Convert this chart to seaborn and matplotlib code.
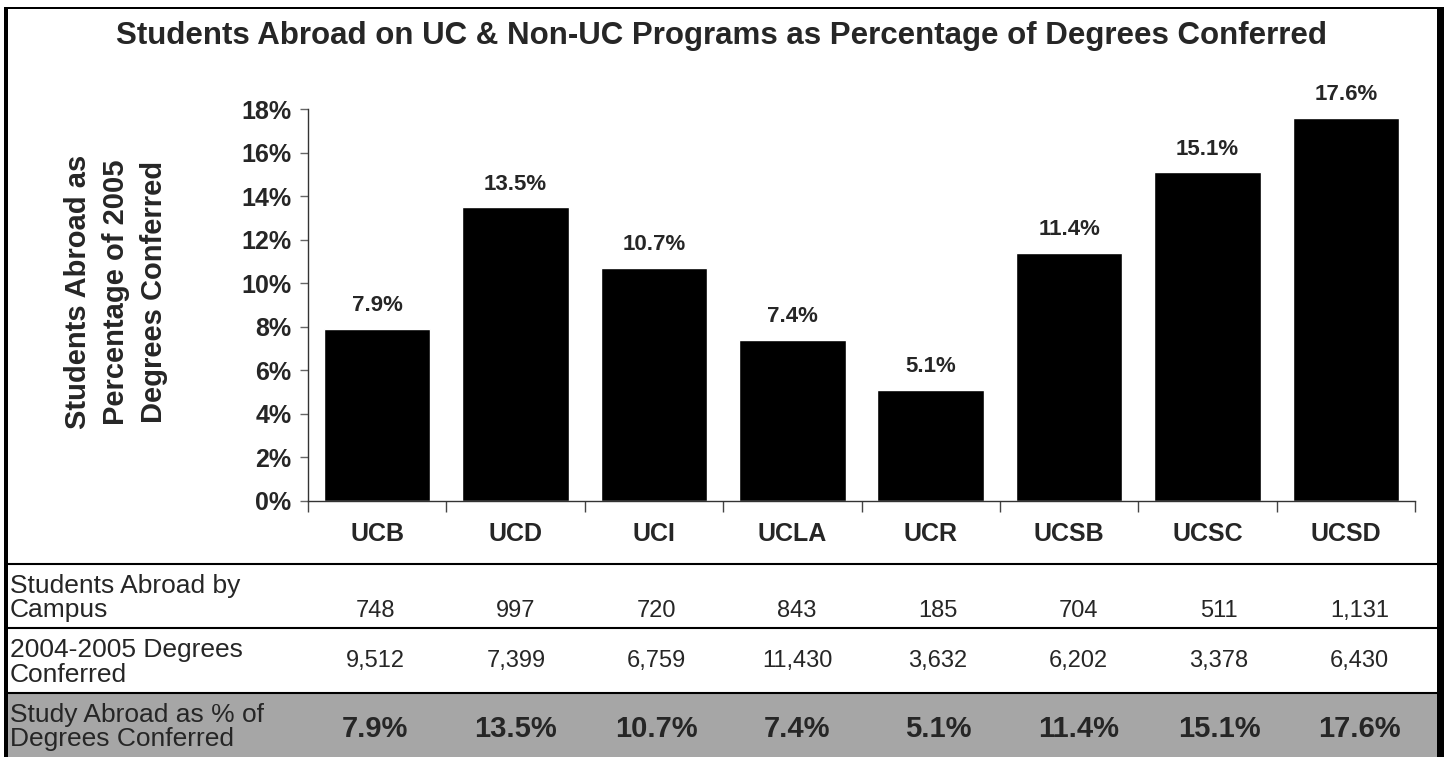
import matplotlib
matplotlib.use("Agg")
import matplotlib.pyplot as plt
import seaborn as sns
import pandas as pd
from matplotlib.patches import Rectangle
from matplotlib.lines import Line2D

# data
campuses = ["UCB", "UCD", "UCI", "UCLA", "UCR", "UCSB", "UCSC", "UCSD"]
pct_abroad = [7.9, 13.5, 10.7, 7.4, 5.1, 11.4, 15.1, 17.6]
students_abroad = [748, 997, 720, 843, 185, 704, 511, 1131]
degrees_conferred = [9512, 7399, 6759, 11430, 3632, 6202, 3378, 6430]
row_labels = ["Students Abroad by\nCampus",
              "2004-2005 Degrees\nConferred",
              "Study Abroad as % of\nDegrees Conferred"]
y_ticks = list(range(0, 20, 2))

sns.set_style("white")
plt.rcParams["font.family"] = ["Liberation Sans", "DejaVu Sans"]

W, H = 1444, 757
fig = plt.figure(figsize=(W / 100, H / 100), dpi=100)


def fx(px):
    return px / W


def fy(py):
    return 1 - py / H


df = pd.DataFrame({"campus": campuses, "pct": pct_abroad})

ax = fig.add_axes([fx(308), fy(501), fx(1415) - fx(308), fy(109) - fy(501)])
sns.barplot(data=df, x="campus", y="pct", color="black", width=0.77,
            saturation=1, ax=ax)
ax.set_ylim(0, 18)
ax.set_xlim(-0.5, len(campuses) - 0.5)
ax.set_yticks(y_ticks)
ax.set_yticklabels([f"{t}%" for t in y_ticks], fontsize=18, fontweight="bold")
ax.tick_params(axis="y", length=6, width=1, color="#666666", pad=6, left=True)
ax.set_xticks(range(len(campuses)))
ax.set_xticklabels(campuses, fontsize=18, fontweight="bold")
ax.tick_params(axis="x", length=0, pad=15)
ax.set_xticks([i - 0.5 for i in range(len(campuses) + 1)], minor=True)
ax.tick_params(axis="x", which="minor", length=8, width=1, color="#444444",
               bottom=True)
ax.set_xlabel("")
ax.set_ylabel("")
for side in ["top", "right"]:
    ax.spines[side].set_visible(False)
for side in ["left", "bottom"]:
    ax.spines[side].set_color("#333333")
    ax.spines[side].set_linewidth(1)

for cont in ax.containers:
    ax.bar_label(cont, labels=[f"{v:.1f}%" for v in pct_abroad],
                 padding=9, fontsize=16, fontweight="bold")

# title and y label
fig.text(0.5, fy(36), "Students Abroad on UC & Non-UC Programs as Percentage of Degrees Conferred",
         ha="center", va="center", fontsize=22.5, fontweight="bold")
fig.text(fx(116), fy(292), "Students Abroad as\nPercentage of 2005\nDegrees Conferred",
         ha="center", va="center", rotation=90, fontsize=21, fontweight="bold",
         multialignment="center", linespacing=1.45)

# data table beneath the chart
row_tops = [564, 628, 693]
row_bottom = 757
value_offsets = [15, 0, 4]
table_left, table_right = 305, 1430
col_w = (table_right - table_left) / len(campuses)

fig.add_artist(Rectangle((fx(8), fy(row_bottom)), fx(1437) - fx(8),
                         fy(693) - fy(row_bottom), transform=fig.transFigure,
                         facecolor="#a6a6a6", edgecolor="none", zorder=0))
for yt in row_tops:
    fig.add_artist(Line2D([fx(8), fx(1437)], [fy(yt), fy(yt)],
                          transform=fig.transFigure, color="black", lw=1.5))

row_values = [
    [f"{v:,}" for v in students_abroad],
    [f"{v:,}" for v in degrees_conferred],
    [f"{v:.1f}%" for v in pct_abroad],
]
row_ends = row_tops[1:] + [row_bottom]
for r, (label, vals) in enumerate(zip(row_labels, row_values)):
    yc = (row_tops[r] + row_ends[r]) / 2
    fig.text(fx(10), fy(yc + 2), label, ha="left", va="center", fontsize=19,
             linespacing=1.02)
    bold = r == 2
    for i, v in enumerate(vals):
        xc = table_left + col_w * (i + 0.5)
        fig.text(fx(xc), fy(yc + value_offsets[r]), v, ha="center", va="center",
                 fontsize=21 if bold else 17,
                 fontweight="bold" if bold else "normal")

# outer frame (left, top, right edges)
fig.add_artist(Rectangle((fx(4), 0), fx(4), fy(7), transform=fig.transFigure,
                         facecolor="black", edgecolor="none"))
fig.add_artist(Rectangle((fx(4), fy(9)), fx(1440) - fx(4), 2 / H,
                         transform=fig.transFigure, facecolor="black",
                         edgecolor="none"))
fig.add_artist(Rectangle((fx(1437), 0), fx(7), fy(7), transform=fig.transFigure,
                         facecolor="black", edgecolor="none"))

fig.savefig("out.png", dpi=100)
